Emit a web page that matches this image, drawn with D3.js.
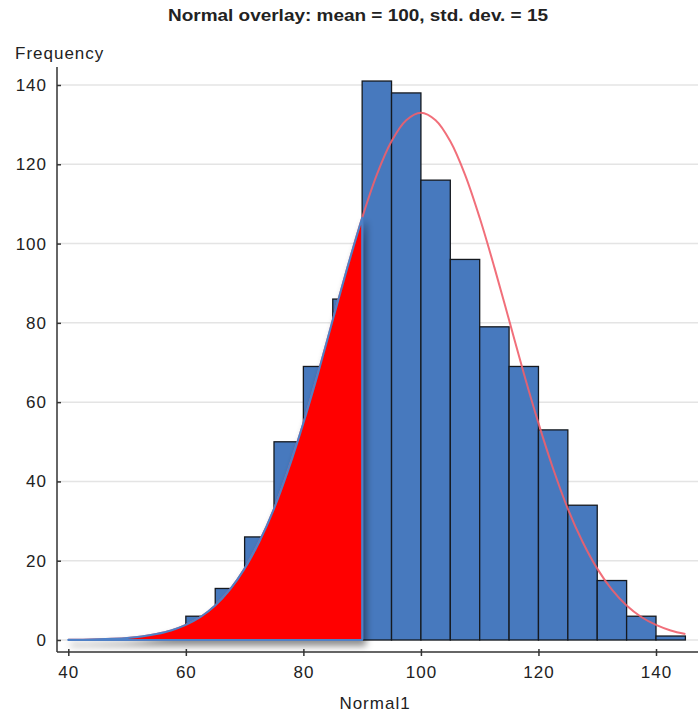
<!DOCTYPE html>
<html>
<head>
<meta charset="utf-8" />
<script src="https://cdn.jsdelivr.net/npm/d3@7"></script>
<style>
    body { margin: 0; background: #fff; }
    text { font-family: "Liberation Sans", Arial, sans-serif; fill: #222; }
</style>
</head>
<body>
<script>
    // histogram bins (left edge) and counts
    var binStarts = [60, 65, 70, 75, 80, 85, 90, 95, 100, 105, 110, 115, 120, 125, 130, 135, 140];
    var counts = [6, 13, 26, 50, 69, 86, 141, 138, 116, 96, 79, 69, 53, 34, 15, 6, 1];
    var binWidth = 5;

    // normal overlay
    var curveX = [40, 42.5, 45, 47.5, 50, 52.5, 55, 57.5, 60, 62.5, 65, 67.5, 70, 72.5, 75, 77.5, 80, 82.5, 85, 87.5,
                  90, 92.5, 95, 97.5, 100, 102.5, 105, 107.5, 110, 112.5, 115, 117.5, 120, 122.5, 125, 127.5,
                  130, 132.5, 135, 137.5, 140, 142.5, 145];
    var curveY = [0.05, 0.09, 0.16, 0.29, 0.5, 0.88, 1.5, 2.4, 3.8, 5.8, 8.7, 12.7, 18, 24.8, 33.1, 43.2, 54.7, 67.3, 80.7, 94,
                  106.5, 117.4, 125.8, 131.1, 133, 131.1, 125.8, 117.4, 106.5, 94, 80.7, 67.3, 54.7, 43.2, 33.1, 24.8,
                  18, 12.7, 8.7, 5.8, 3.8, 2.4, 1.5];

    // red shaded tail
    var shadeFrom = 40, shadeTo = 90;

    var xTicks = [40, 60, 80, 100, 120, 140];
    var yTicks = [0, 20, 40, 60, 80, 100, 120, 140];

    var svgWidth = 698, svgHeight = 713,
        axisX = 57, axisY = 652;

    var svg = d3.select("body").append("svg")
        .attr("width", svgWidth)
        .attr("height", svgHeight);

    var defs = svg.append("defs");
    defs.append("filter")
        .attr("id", "shadow")
        .attr("x", "-10%").attr("y", "-10%")
        .attr("width", "130%").attr("height", "130%")
        .append("feDropShadow")
        .attr("dx", 3).attr("dy", 5)
        .attr("stdDeviation", 3.5)
        .attr("flood-color", "#000")
        .attr("flood-opacity", 0.45);

    var x = d3.scaleLinear().domain([40, 140]).range([68.3, 656]);
    var y = d3.scaleLinear().domain([0, 140]).range([640, 85]);

    // gridlines
    svg.append("g").selectAll("line")
        .data(yTicks)
        .enter().append("line")
        .attr("x1", axisX).attr("x2", svgWidth)
        .attr("y1", function(d) { return y(d); })
        .attr("y2", function(d) { return y(d); })
        .attr("stroke", "#e4e4e4")
        .attr("stroke-width", 1.5);

    // bars
    svg.append("g").selectAll("rect")
        .data(binStarts)
        .enter().append("rect")
        .attr("x", function(d) { return x(d); })
        .attr("width", function(d) { return x(d + binWidth) - x(d); })
        .attr("y", function(d, i) { return y(counts[i]); })
        .attr("height", function(d, i) { return y(0) - y(counts[i]); })
        .attr("fill", "#4779be")
        .attr("stroke", "#15191f")
        .attr("stroke-width", 1.3);

    var pts = curveX.map(function(v, i) { return [v, curveY[i]]; });

    // normal curve
    svg.append("path")
        .datum(pts)
        .attr("fill", "none")
        .attr("stroke", "#ef5f6c")
        .attr("stroke-opacity", 0.9)
        .attr("stroke-width", 2)
        .attr("d", d3.line()
            .x(function(d) { return x(d[0]); })
            .y(function(d) { return y(d[1]); })
            .curve(d3.curveCatmullRom));

    // shaded tail
    var tail = pts.filter(function(d) { return d[0] >= shadeFrom && d[0] <= shadeTo; });
    svg.append("path")
        .datum(tail)
        .attr("fill", "#ff0000")
        .attr("stroke", "#4f80c6")
        .attr("stroke-width", 2)
        .attr("stroke-linejoin", "round")
        .attr("filter", "url(#shadow)")
        .attr("d", d3.area()
            .x(function(d) { return x(d[0]); })
            .y0(y(0))
            .y1(function(d) { return y(d[1]); })
            .curve(d3.curveCatmullRom));

    // x axis
    svg.append("line")
        .attr("x1", axisX).attr("x2", svgWidth)
        .attr("y1", axisY).attr("y2", axisY)
        .attr("stroke", "#333").attr("stroke-width", 1.5);
    var xAxis = svg.append("g")
        .attr("transform", "translate(0," + axisY + ")")
        .call(d3.axisBottom(x).tickValues(xTicks).tickSize(4).tickPadding(10));
    xAxis.select(".domain").remove();
    xAxis.selectAll(".tick line").attr("y1", -3).attr("stroke", "#333").attr("stroke-width", 1.5);
    xAxis.selectAll("text")
        .style("font-size", "17px")
        .style("letter-spacing", "1px")
        .attr("fill", "#222");

    // y axis
    svg.append("line")
        .attr("x1", axisX).attr("x2", axisX)
        .attr("y1", 67).attr("y2", axisY)
        .attr("stroke", "#333").attr("stroke-width", 1.5);
    var yAxis = svg.append("g")
        .attr("transform", "translate(" + axisX + ",0)")
        .call(d3.axisLeft(y).tickValues(yTicks).tickSize(4).tickPadding(6));
    yAxis.select(".domain").remove();
    yAxis.selectAll(".tick line").attr("x2", 4).attr("stroke", "#333").attr("stroke-width", 1.5);
    yAxis.selectAll("text")
        .style("font-size", "17px")
        .style("letter-spacing", "1px")
        .attr("fill", "#222");

    // labels
    svg.append("text")
        .attr("x", 358).attr("y", 21)
        .attr("text-anchor", "middle")
        .attr("textLength", 380)
        .attr("lengthAdjust", "spacingAndGlyphs")
        .style("font-size", "17px")
        .style("font-weight", "bold")
        .text("Normal overlay: mean = 100, std. dev. = 15");

    svg.append("text")
        .attr("x", 15).attr("y", 59)
        .style("font-size", "17px")
        .style("letter-spacing", "1px")
        .text("Frequency");

    svg.append("text")
        .attr("x", 375).attr("y", 709)
        .attr("text-anchor", "middle")
        .style("font-size", "17px")
        .style("letter-spacing", "1px")
        .text("Normal1");
</script>
</body>
</html>
